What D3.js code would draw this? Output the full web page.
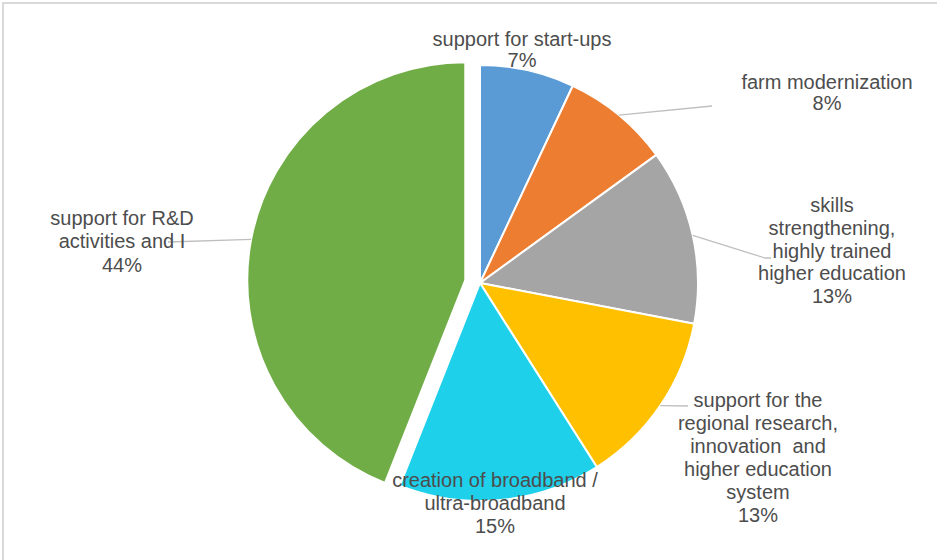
<!DOCTYPE html>
<html>
<head>
<meta charset="utf-8">
<script src="https://cdn.jsdelivr.net/npm/d3@7"></script>
<style>
  body { margin: 0; background: #fff; }
  svg { display: block; }
</style>
</head>
<body>
<div class="chart"></div>
<script>
const categories = [
  "support for start-ups",
  "farm modernization",
  "skills strengthening, highly trained higher education",
  "support for the regional research, innovation and higher education system",
  "creation of broadband / ultra-broadband",
  "support for R&D activities and I"
];
const values = [7, 8, 13, 13, 15, 44];
const labelLines = [
  ["support for start-ups"],
  ["farm modernization"],
  ["skills", "strengthening,", "highly trained", "higher education"],
  ["support for the", "regional research,", "innovation  and", "higher education", "system"],
  ["creation of broadband /", "ultra-broadband"],
  ["support for R&D", "activities and I"]
];
const colors = ["#5B9BD5", "#ED7D31", "#A5A5A5", "#FFC000", "#1ED0EA", "#70AD47"];

// label layout: centre x, first baseline y, line gap
const labelPos = [[522, 46, 20.5], [827, 89, 21], [832, 212, 22.8], [758, 407, 23], [495, 487, 23], [122, 225, 23.4]];
const leaderEnds = [null, [[712, 106]], [[765, 258], [771, 258]], [[688, 406]], null, [[168, 242]]];
const explode = [0, 0, 0, 0, 0, 15];

const width = 937, height = 560;
const cx = 480, cy = 283, radius = 218;

const svg = d3.select('.chart').append('svg')
    .attr("width", width)
    .attr("height", height);

svg.append("rect")
    .attr("x", 3).attr("y", 3)
    .attr("width", width + 10).attr("height", height + 10)
    .attr("fill", "none")
    .attr("stroke", "#d9d9d9")
    .attr("stroke-width", 2);

const pie = d3.pie().sort(null).value(d => d);
const arcs = pie(values);

const arc = d3.arc().innerRadius(0).outerRadius(radius);
const edgeArc = d3.arc().innerRadius(radius).outerRadius(radius);

const plot = svg.append("g")
    .attr("transform", `translate(${cx},${cy})`);

function shift(d, i) {
  const a = (d.startAngle + d.endAngle) / 2;
  return [Math.sin(a) * explode[i], -Math.cos(a) * explode[i]];
}

plot.selectAll("path.slice")
    .data(arcs)
    .enter()
    .append("path")
    .attr("class", "slice")
    .attr("d", arc)
    .attr("transform", (d, i) => `translate(${shift(d, i)})`)
    .attr("fill", (d, i) => colors[i])
    .attr("stroke", "#fff")
    .attr("stroke-width", 2)
    .attr("stroke-linejoin", "round");

// leader lines
arcs.forEach((d, i) => {
  if (!leaderEnds[i]) return;
  const s = shift(d, i);
  const c = edgeArc.centroid(d);
  const pts = [[cx + c[0] + s[0], cy + c[1] + s[1]]].concat(leaderEnds[i]);
  svg.append("path")
      .attr("d", d3.line()(pts))
      .attr("fill", "none")
      .attr("stroke", "#bfbfbf")
      .attr("stroke-width", 1.3);
});

// labels
arcs.forEach((d, i) => {
  const [x, y, gap] = labelPos[i];
  const t = svg.append("text")
      .attr("x", x)
      .attr("y", y)
      .attr("text-anchor", "middle")
      .attr("font-family", "Liberation Sans, Arial, sans-serif")
      .attr("font-size", "20px")
      .attr("fill", "#4d4d4d")
      .style("white-space", "pre");
  const lines = labelLines[i].concat([values[i] + "%"]);
  lines.forEach((l, j) => {
    t.append("tspan")
        .attr("x", x)
        .attr("dy", j === 0 ? 0 : gap)
        .text(l);
  });
});
</script>
</body>
</html>
